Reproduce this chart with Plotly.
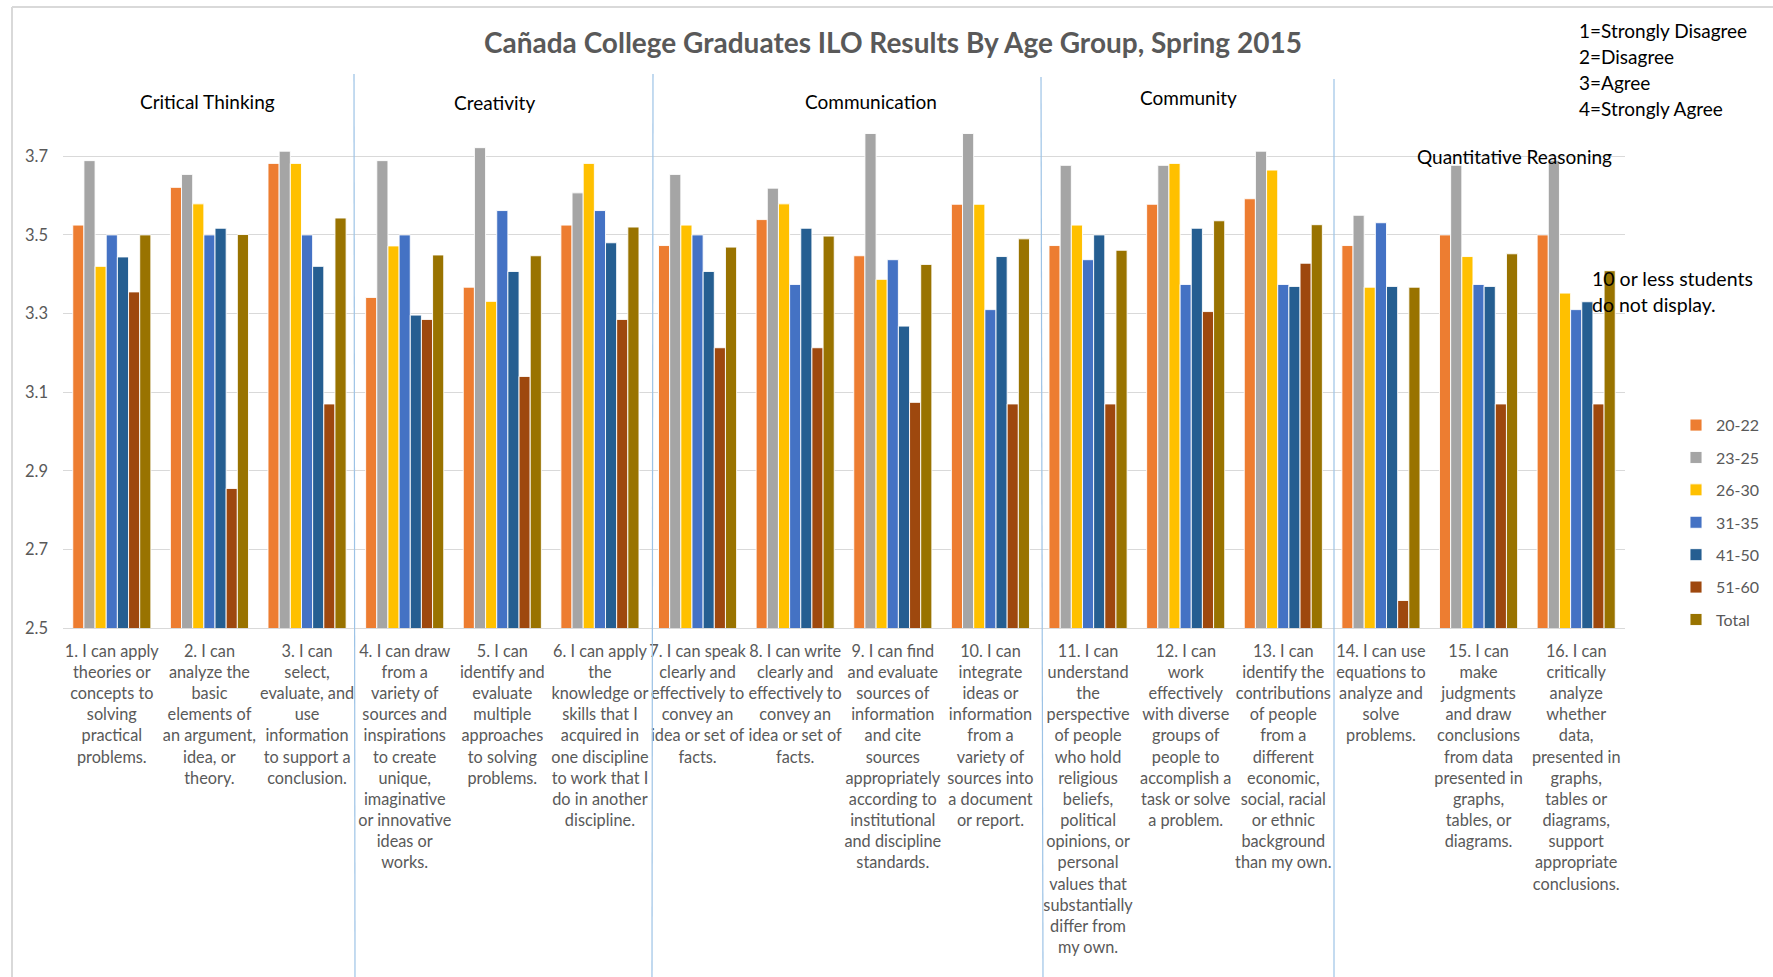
import plotly.graph_objects as go

# ---------------- data ----------------
questions = [
    "1. I can apply<br>theories or<br>concepts to<br>solving<br>practical<br>problems.",
    "2. I can<br>analyze the<br>basic<br>elements of<br>an argument,<br>idea, or<br>theory.",
    "3. I can<br>select,<br>evaluate, and<br>use<br>information<br>to support a<br>conclusion.",
    "4. I can draw<br>from a<br>variety of<br>sources and<br>inspirations<br>to create<br>unique,<br>imaginative<br>or innovative<br>ideas or<br>works.",
    "5. I can<br>identify and<br>evaluate<br>multiple<br>approaches<br>to solving<br>problems.",
    "6. I can apply<br>the<br>knowledge or<br>skills that I<br>acquired in<br>one discipline<br>to work that I<br>do in another<br>discipline.",
    "7. I can speak<br>clearly and<br>effectively to<br>convey an<br>idea or set of<br>facts.",
    "8. I can write<br>clearly and<br>effectively to<br>convey an<br>idea or set of<br>facts.",
    "9. I can find<br>and evaluate<br>sources of<br>information<br>and cite<br>sources<br>appropriately<br>according to<br>institutional<br>and discipline<br>standards.",
    "10. I can<br>integrate<br>ideas or<br>information<br>from a<br>variety of<br>sources into<br>a document<br>or report.",
    "11. I can<br>understand<br>the<br>perspective<br>of people<br>who hold<br>religious<br>beliefs,<br>political<br>opinions, or<br>personal<br>values that<br>substantially<br>differ from<br>my own.",
    "12. I can<br>work<br>effectively<br>with diverse<br>groups of<br>people to<br>accomplish a<br>task or solve<br>a problem.",
    "13. I can<br>identify the<br>contributions<br>of people<br>from a<br>different<br>economic,<br>social, racial<br>or ethnic<br>background<br>than my own.",
    "14. I can use<br>equations to<br>analyze and<br>solve<br>problems.",
    "15. I can<br>make<br>judgments<br>and draw<br>conclusions<br>from data<br>presented in<br>graphs,<br>tables, or<br>diagrams.",
    "16. I can<br>critically<br>analyze<br>whether<br>data,<br>presented in<br>graphs,<br>tables or<br>diagrams,<br>support<br>appropriate<br>conclusions.",
]

age_groups = ["20-22", "23-25", "26-30", "31-35", "41-50", "51-60", "Total"]

v_20_22 = [3.525, 3.621, 3.682, 3.341, 3.367, 3.525, 3.473, 3.539, 3.447, 3.578, 3.473, 3.578, 3.592, 3.473, 3.500, 3.500]
v_23_25 = [3.689, 3.654, 3.713, 3.689, 3.722, 3.607, 3.654, 3.619, 3.758, 3.758, 3.677, 3.677, 3.713, 3.550, 3.677, 3.690]
v_26_30 = [3.420, 3.579, 3.682, 3.472, 3.331, 3.682, 3.525, 3.579, 3.387, 3.578, 3.525, 3.682, 3.665, 3.367, 3.445, 3.352]
v_31_35 = [3.500, 3.500, 3.500, 3.500, 3.562, 3.562, 3.500, 3.374, 3.437, 3.310, 3.437, 3.374, 3.374, 3.531, 3.374, 3.310]
v_41_50 = [3.444, 3.517, 3.420, 3.296, 3.407, 3.480, 3.407, 3.517, 3.268, 3.445, 3.500, 3.517, 3.369, 3.369, 3.369, 3.330]
v_51_60 = [3.355, 2.855, 3.070, 3.285, 3.140, 3.285, 3.213, 3.213, 3.074, 3.070, 3.070, 3.305, 3.428, 2.570, 3.070, 3.070]
v_total = [3.500, 3.501, 3.543, 3.449, 3.447, 3.520, 3.469, 3.497, 3.425, 3.490, 3.461, 3.536, 3.526, 3.367, 3.452, 3.409]

series_values = [v_20_22, v_23_25, v_26_30, v_31_35, v_41_50, v_51_60, v_total]
series_colors = ["#ED7D31", "#A5A5A5", "#FFC000", "#4472C4", "#255E91", "#9E480E", "#997300"]

y_ticks = [2.5, 2.7, 2.9, 3.1, 3.3, 3.5, 3.7]
y_tick_text = ["2.5", "2.7", "2.9", "3.1", "3.3", "3.5", "3.7"]

sections = ["Critical Thinking", "Creativity", "Communication", "Community", "Quantitative Reasoning"]
scale_key = ["1=Strongly Disagree", "2=Disagree", "3=Agree", "4=Strongly Agree"]
note_lines = ["10 or less students", "do not display."]
title_text = "Cañada College Graduates ILO Results By Age Group, Spring 2015"

# ---------------- layout geometry (pixels) ----------------
W, H = 1773, 977
L, R, T, B = 63, 1625, 117, 627.7


def xp(px):
    return (px - L) / (R - L)


def yp(py):
    return (B - py) / (B - T)


FONT = "Lato, 'Noto Sans', sans-serif"
GRAY = "#595959"

fig = go.Figure()
for name, vals, col in zip(age_groups, series_values, series_colors):
    fig.add_trace(go.Bar(
        x=questions, y=vals, name=name,
        marker=dict(color=col, line=dict(color="rgba(255,255,255,0.9)", width=1)),
        legendgroup=name,
    ))

annotations = []
annotations.append(dict(text=title_text, x=xp(893), y=yp(42), xref="paper", yref="paper",
                        showarrow=False, xanchor="center", yanchor="middle",
                        font=dict(family=FONT, size=28, color=GRAY, weight="bold")))

section_pos = [(207, 102), (494, 103), (871, 102), (1188, 98), (1514, 156)]
for s, (px, py) in zip(sections, section_pos):
    annotations.append(dict(text=s, x=xp(px), y=yp(py), xref="paper", yref="paper",
                            showarrow=False, xanchor="center", yanchor="middle",
                            font=dict(family=FONT, size=19, color="black")))

for i, line in enumerate(scale_key):
    annotations.append(dict(text=line, x=xp(1577), y=yp(30.5 + 26 * i), xref="paper", yref="paper",
                            showarrow=False, xanchor="left", yanchor="middle",
                            font=dict(family=FONT, size=19, color="black")))

for i, line in enumerate(note_lines):
    annotations.append(dict(text=line, x=xp(1590), y=yp(278 + 26 * i), xref="paper", yref="paper",
                            showarrow=False, xanchor="left", yanchor="middle",
                            font=dict(family=FONT, size=19.5, color="black")))

shapes = []
# chart frame
shapes.append(dict(type="line", xref="paper", yref="paper", x0=xp(12), x1=xp(W), y0=yp(7), y1=yp(7),
                   line=dict(color="#D9D9D9", width=2)))
shapes.append(dict(type="line", xref="paper", yref="paper", x0=xp(12), x1=xp(12), y0=yp(7), y1=yp(H),
                   line=dict(color="#D9D9D9", width=2)))
# section separators
sep = [(354, 74, 355), (653, 74, 652), (1041, 77, 1043), (1334, 79, 1334)]
for x0, y0, x1 in sep:
    shapes.append(dict(type="line", xref="paper", yref="paper", x0=xp(x0), x1=xp(x1), y0=yp(y0), y1=yp(H),
                       line=dict(color="#9DC3E6", width=1.2)))

fig.update_layout(
    width=W, height=H,
    margin=dict(l=L, r=W - R, t=T, b=H - B, autoexpand=False),
    paper_bgcolor="white", plot_bgcolor="white",
    barmode="group", bargap=0.2, bargroupgap=0,
    font=dict(family=FONT, color=GRAY),
    showlegend=True,
    legend=dict(x=xp(1676), y=yp(408), xanchor="left", yanchor="top",
                font=dict(family=FONT, size=16, color=GRAY),
                tracegroupgap=8.6, itemwidth=30, bgcolor="rgba(0,0,0,0)"),
    annotations=annotations,
    shapes=shapes,
)
fig.update_xaxes(type="category", showgrid=False, showline=True, linecolor="#D9D9D9", linewidth=1,
                 ticks="", tickangle=0, tickfont=dict(family=FONT, size=16.3, color=GRAY),
                 ticklabelstandoff=8)
fig.update_yaxes(range=[2.5, 3.8], tickvals=y_ticks, ticktext=y_tick_text, showgrid=True,
                 gridcolor="#D9D9D9", gridwidth=1, zeroline=False, showline=False, ticks="",
                 tickfont=dict(family=FONT, size=16.5, color=GRAY), ticklabelstandoff=14)

fig.write_html("out.html", config={"displayModeBar": False},
               post_script="document.body.style.margin='0';document.body.style.overflow='hidden';")
